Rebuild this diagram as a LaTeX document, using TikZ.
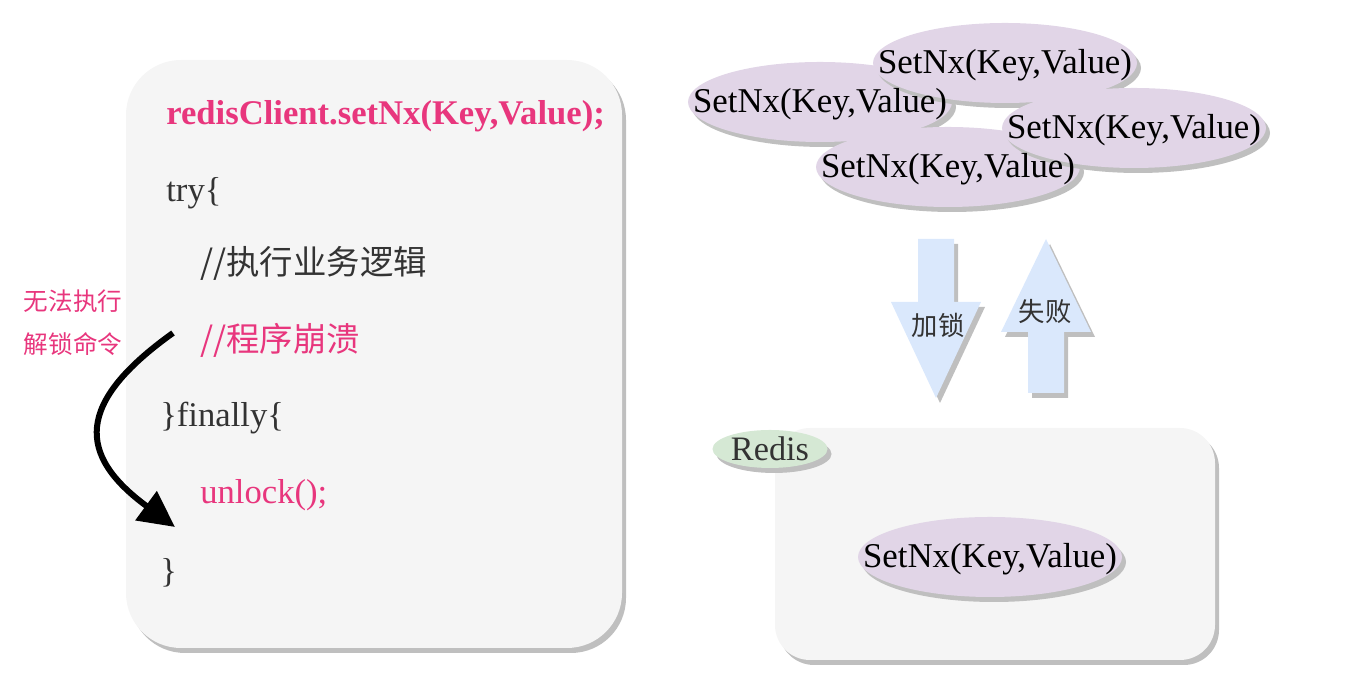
\documentclass[tikz,border=0pt]{standalone}
\usepackage{fontspec}
\setmainfont{Liberation Serif}
\newfontfamily\cjk{Noto Sans CJK SC}
\usetikzlibrary{shapes.geometric,shadows,arrows.meta}

\definecolor{codegray}{HTML}{333333}
\definecolor{crashpink}{HTML}{E8367D}
\definecolor{boxgray}{HTML}{F5F5F5}
\definecolor{reqpurple}{HTML}{E1D5E7}
\definecolor{lockblue}{HTML}{DAE8FC}
\definecolor{redisgreen}{HTML}{D5E8D4}

\tikzset{
  softshadow/.style={drop shadow={shadow xshift=0.08cm, shadow yshift=-0.1cm, fill=black!25, opacity=1}},
  cjkline/.style={anchor=west, inner sep=0pt, text=codegray, font=\cjk\fontsize{19}{23}\selectfont},
  codeline/.style={anchor=west, inner sep=0pt, yshift=-0.06cm, text=codegray, font=\fontsize{19.7}{24}\selectfont},
  req/.style={ellipse, fill=reqpurple, inner sep=0pt, minimum width=5.28cm, minimum height=1.6cm, softshadow},
  reqtext/.style={inner sep=0pt, yshift=-0.05cm, font=\fontsize{19.8}{24}\selectfont},
}

\begin{document}
\begin{tikzpicture}
\useasboundingbox (0,0) rectangle (27.32,13.92);

% code block
\node[draw=none, fill=boxgray, rounded corners=1.1cm, minimum width=9.92cm, minimum height=11.76cm, softshadow] (code) at (7.48,6.84) {};
\node[codeline, text=crashpink, font=\bfseries\fontsize{19.7}{24}\selectfont] (setnx) at (3.32,11.66) {redisClient.setNx(Key,Value);};
\node[codeline] (try) at (3.32,10.12) {try\{};
\node[cjkline] (biz) at (4.0,8.66) {//执行业务逻辑};
\node[cjkline, text=crashpink] (crash) at (4.0,7.12) {//程序崩溃};
\node[codeline] (finally) at (3.2,5.62) {\}finally\{};
\node[codeline, text=crashpink] (unlock) at (4.0,4.08) {unlock();};
\node[codeline] (close) at (3.2,2.52) {\}};

% skipped unlock
\node[align=center, text=crashpink, font=\cjk\fontsize{14}{24.4}\selectfont] (note) at (1.46,7.46) {无法执行\\解锁命令};
\coordinate (jumpfrom) at (3.46,7.26);
\coordinate (jumpto) at (3.5,3.38);
\draw[-{Triangle[length=0.72cm,width=0.7cm]}, line width=0.12cm] (jumpfrom) .. controls (1.5,5.86) and (1.54,4.82) .. (jumpto);

% concurrent requests
\foreach \n/\x/\y in {B/16.4/11.88, A/20.1/12.66, D/18.96/10.58, C/22.68/11.36}
  \node[req] (req\n) at (\x,\y) {};
\foreach \n in {A,B,C,D}
  \node[reqtext] (txt\n) at (req\n) {SetNx(Key,Value)};

% lock / fail arrows
\fill[lockblue, softshadow] (18.36,9.14) -- (19.08,9.14) -- (19.08,7.88) -- (19.62,7.88) -- (18.72,5.96) -- (17.82,7.88) -- (18.36,7.88) -- cycle;
\fill[lockblue, softshadow] (20.92,9.14) -- (21.82,7.28) -- (21.28,7.28) -- (21.28,6.06) -- (20.56,6.06) -- (20.56,7.28) -- (20.02,7.28) -- cycle;
\node[text=codegray, font=\cjk\fontsize{15}{18}\selectfont] (lock) at (18.76,7.42) {加锁};
\node[text=codegray, font=\cjk\fontsize{15}{18}\selectfont] (fail) at (20.9,7.68) {失败};

% redis
\node[fill=boxgray, rounded corners=0.7cm, minimum width=8.8cm, minimum height=4.64cm, softshadow] (redis) at (19.9,3.04) {};
\node[ellipse, fill=redisgreen, inner sep=0pt, minimum width=2.3cm, minimum height=0.76cm, softshadow, text=codegray, font=\fontsize{19.5}{23}\selectfont] (redislabel) at (15.4,4.94) {Redis};
\node[req] (held) at (19.8,2.78) {};
\node[reqtext] (heldtext) at (held) {SetNx(Key,Value)};
\end{tikzpicture}
\end{document}
